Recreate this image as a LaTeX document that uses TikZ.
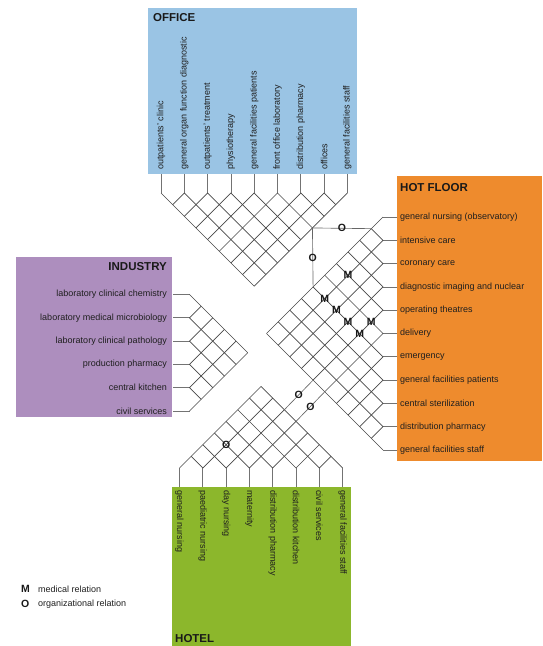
\documentclass[tikz,border=0pt]{standalone}
\usepackage{fontspec}
\setmainfont{Liberation Sans}
\usetikzlibrary{calc}
\definecolor{officeblue}{RGB}{154,196,228}
\definecolor{hotorange}{RGB}{238,139,45}
\definecolor{indpurple}{RGB}{173,142,190}
\definecolor{hotelgreen}{RGB}{140,183,44}
\begin{document}
\begin{tikzpicture}[x=1pt,y=-1pt,
  area/.style={draw=none, inner sep=0pt, outer sep=0pt, anchor=north west},
  grid/.style={draw=black!72, line width=0.65pt},
  tick/.style={draw=black!55, line width=0.65pt},
  link/.style={draw=black!60, line width=0.65pt},
  lbl/.style={font=\fontsize{9}{10}\selectfont, inner sep=1pt, text=black!88},
  ttl/.style={font=\fontsize{11.5}{13}\selectfont\bfseries, inner sep=0pt, text=black!90},
  relmark/.style={font=\fontsize{10.5}{12}\selectfont\bfseries, inner sep=0pt, text=black!90}]
\def\s{23.3}
\useasboundingbox (0,0) rectangle (542,646);

% coloured areas
\node[area, fill=officeblue, minimum width=209pt, minimum height=166pt] (office) at (148,8) {};
\node[area, fill=hotorange, minimum width=145pt, minimum height=285pt] (hotfloor) at (397,176) {};
\node[area, fill=indpurple, minimum width=156pt, minimum height=160pt] (industry) at (16,257) {};
\node[area, fill=hotelgreen, minimum width=179pt, minimum height=159pt] (hotel) at (172,487) {};

% titles
\node[ttl, anchor=west] (officeT) at (153,18) {OFFICE};
\node[ttl, anchor=west] (hotfloorT) at (400,188) {HOT FLOOR};
\node[ttl, anchor=east] (industryT) at (167,267) {INDUSTRY};
\node[ttl, anchor=west] (hotelT) at (175,639) {HOTEL};

% OFFICE
\foreach \t [count=\k] in {outpatients' clinic, general organ function diagnostic, outpatients' treatment, physiotherapy, general facilities patients, front office laboratory, distribution pharmacy, offices, general facilities staff}{
  \pgfmathsetmacro\xx{161+(\k-1)*\s}
  \pgfmathsetmacro\a{(\k-1)*\s/2}
  \pgfmathsetmacro\b{(9-\k)*\s/2}
  \coordinate (o\k) at (\xx,193);
  \coordinate (ob\k) at (\xx,174);
  \node[lbl, rotate=90, anchor=west] (ol\k) at (\xx,171) {\t};
  \draw[tick] (ob\k) -- (o\k);
  \draw[grid] ($(o\k)+(-\a,\a)$) -- (o\k) -- ($(o\k)+(\b,\b)$);
}

% HOT FLOOR
\foreach \t [count=\k] in {general nursing (observatory), intensive care, coronary care, diagnostic imaging and nuclear, operating theatres, delivery, emergency, general facilities patients, central sterilization, distribution pharmacy, general facilities staff}{
  \pgfmathsetmacro\yy{217+(\k-1)*\s}
  \pgfmathsetmacro\a{(\k-1)*\s/2}
  \pgfmathsetmacro\b{(11-\k)*\s/2}
  \coordinate (h\k) at (383,\yy);
  \coordinate (hb\k) at (397,\yy);
  \node[lbl, anchor=west] (hl\k) at (399,\yy) {\t};
  \draw[tick] (hb\k) -- (h\k);
  \draw[grid] ($(h\k)+(-\a,-\a)$) -- (h\k) -- ($(h\k)+(-\b,\b)$);
}

% INDUSTRY
\foreach \t [count=\k] in {laboratory clinical chemistry, laboratory medical microbiology, laboratory clinical pathology, production pharmacy, central kitchen, civil services}{
  \pgfmathsetmacro\yy{294.5+(\k-1)*\s}
  \pgfmathsetmacro\a{(\k-1)*\s/2}
  \pgfmathsetmacro\b{(6-\k)*\s/2}
  \coordinate (i\k) at (189.5,\yy);
  \coordinate (ib\k) at (173,\yy);
  \node[lbl, anchor=east] (il\k) at (168,\yy) {\t};
  \draw[tick] (ib\k) -- (i\k);
  \draw[grid] ($(i\k)+(\a,-\a)$) -- (i\k) -- ($(i\k)+(\b,\b)$);
}

% HOTEL
\foreach \t [count=\k] in {general nursing, paediatric nursing, day nursing, maternity, distribution pharmacy, distribution kitchen, civil services, general facilities staff}{
  \pgfmathsetmacro\xx{179.5+(\k-1)*\s}
  \pgfmathsetmacro\a{(\k-1)*\s/2}
  \pgfmathsetmacro\b{(8-\k)*\s/2}
  \coordinate (g\k) at (\xx,468);
  \coordinate (gb\k) at (\xx,487);
  \node[lbl, rotate=-90, anchor=west] (gl\k) at (\xx,489) {\t};
  \draw[tick] (gb\k) -- (g\k);
  \draw[grid] ($(g\k)+(-\a,-\a)$) -- (g\k) -- ($(g\k)+(\b,-\b)$);
}

% relation vertices
\coordinate (ov69) at ($(o6)+(34.95,34.95)$);
\coordinate (hv12) at ($(h1)+(-11.65,11.65)$);
\coordinate (hv17) at ($(h1)+(-69.9,69.9)$);
\coordinate (gv38) at ($(g3)+(58.25,-58.25)$);
\coordinate (gv48) at ($(g4)+(46.6,-46.6)$);
\coordinate (hv511) at ($(h5)+(-69.9,69.9)$);
\coordinate (hv611) at ($(h6)+(-58.25,58.25)$);

% links between areas
\draw[link] (ov69) -- node[relmark] (lo1) {O} (hv12);
\draw[link] (ov69) -- node[relmark] (lo2) {O} (hv17);
\draw[link] (gv38) -- node[relmark] (lo3) {O} (hv511);
\draw[link] (gv48) -- node[relmark] (lo4) {O} (hv611);

% marks inside grids
\node[relmark] (m25) at ($(h2)+(-34.95,34.95)$) {M};
\node[relmark] (m27) at ($(h2)+(-58.25,58.25)$) {M};
\node[relmark] (m37) at ($(h3)+(-46.6,46.6)$) {M};
\node[relmark] (m47) at ($(h4)+(-34.95,34.95)$) {M};
\node[relmark] (m56) at ($(h5)+(-11.65,11.65)$) {M};
\node[relmark] (m57) at ($(h5)+(-23.3,23.3)$) {M};
\node[relmark] (og24) at ($(g2)+(23.3,-23.3)$) {O};

% legend
\node[relmark, anchor=west] (legM) at (21,589) {M};
\node[lbl, anchor=west] (legMt) at (37,589) {medical relation};
\node[relmark, anchor=west] (legO) at (21,604) {O};
\node[lbl, anchor=west] (legOt) at (37,604) {organizational relation};
\end{tikzpicture}
\end{document}
